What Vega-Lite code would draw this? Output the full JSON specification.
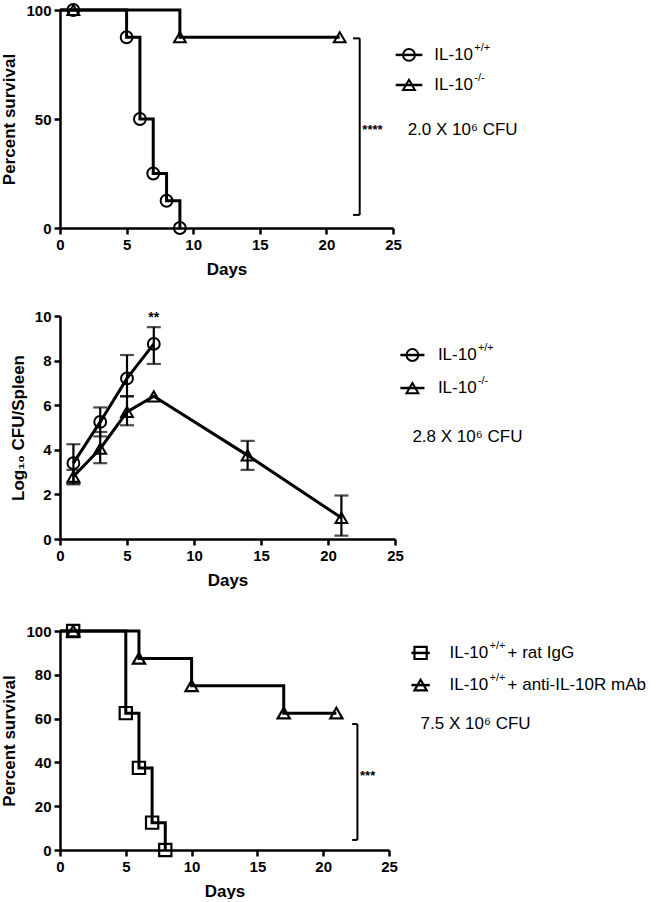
{
  "$schema": "https://vega.github.io/schema/vega-lite/v6.json",
  "background": "white",
  "padding": {"left": 0, "top": 0, "right": 0, "bottom": 0},
  "spacing": 32,
  "resolve": {"scale": {"shape": "independent"}},
  "config": {
    "font": "Liberation Sans",
    "view": {"stroke": null},
    "axis": {"domainColor": "black", "domainWidth": 2.5, "tickColor": "black", "tickWidth": 2.5, "tickSize": 6, "labelFont": "Liberation Sans", "labelFontWeight": "bold", "labelFontSize": 15, "labelColor": "black", "labelPadding": 3, "titleFont": "Liberation Sans", "titleFontWeight": "bold", "titleFontSize": 17, "titleColor": "black", "grid": false},
    "axisX": {"titlePadding": 9, "labelFlush": false},
    "axisY": {"titlePadding": 7},
    "text": {"font": "Liberation Sans", "color": "black"}
  },
  "datasets": {
    "surv1": [
      {"group": "IL-10+/+", "day": 0, "pct": 100},
      {"group": "IL-10+/+", "day": 1, "pct": 100},
      {"group": "IL-10+/+", "day": 5, "pct": 87.5},
      {"group": "IL-10+/+", "day": 6, "pct": 50},
      {"group": "IL-10+/+", "day": 7, "pct": 25},
      {"group": "IL-10+/+", "day": 8, "pct": 12.5},
      {"group": "IL-10+/+", "day": 9, "pct": 0},
      {"group": "IL-10-/-", "day": 0, "pct": 100},
      {"group": "IL-10-/-", "day": 1, "pct": 100},
      {"group": "IL-10-/-", "day": 9, "pct": 87.5},
      {"group": "IL-10-/-", "day": 21, "pct": 87.5}
    ],
    "leg1": [
      {"group": "IL-10+/+", "base": "IL-10", "sup": "+/+", "ly": 79.4},
      {"group": "IL-10-/-", "base": "IL-10", "sup": "-/-", "ly": 65.6}
    ],
    "cfu": [
      {"group": "IL-10+/+", "day": 1, "mean": 3.4, "lo": 2.5, "hi": 4.25},
      {"group": "IL-10+/+", "day": 3, "mean": 5.25, "lo": 4.6, "hi": 5.9},
      {"group": "IL-10+/+", "day": 5, "mean": 7.2, "lo": 6.4, "hi": 8.25},
      {"group": "IL-10+/+", "day": 7, "mean": 8.75, "lo": 7.85, "hi": 9.5},
      {"group": "IL-10-/-", "day": 1, "mean": 2.8, "lo": 2.45, "hi": 3.1},
      {"group": "IL-10-/-", "day": 3, "mean": 4.05, "lo": 3.4, "hi": 4.8},
      {"group": "IL-10-/-", "day": 5, "mean": 5.7, "lo": 5.1, "hi": 6.4},
      {"group": "IL-10-/-", "day": 7, "mean": 6.4, "lo": null, "hi": null},
      {"group": "IL-10-/-", "day": 14, "mean": 3.75, "lo": 3.1, "hi": 4.4},
      {"group": "IL-10-/-", "day": 21, "mean": 0.95, "lo": 0.15, "hi": 1.95}
    ],
    "leg2": [
      {"group": "IL-10+/+", "base": "IL-10", "sup": "+/+", "ly": 8.25},
      {"group": "IL-10-/-", "base": "IL-10", "sup": "-/-", "ly": 6.77}
    ],
    "surv3": [
      {"group": "IgG", "day": 0, "pct": 100},
      {"group": "IgG", "day": 1, "pct": 100},
      {"group": "IgG", "day": 5, "pct": 62.5},
      {"group": "IgG", "day": 6, "pct": 37.5},
      {"group": "IgG", "day": 7, "pct": 12.5},
      {"group": "IgG", "day": 8, "pct": 0},
      {"group": "anti", "day": 0, "pct": 100},
      {"group": "anti", "day": 1, "pct": 100},
      {"group": "anti", "day": 6, "pct": 87.5},
      {"group": "anti", "day": 10, "pct": 75},
      {"group": "anti", "day": 17, "pct": 62.5},
      {"group": "anti", "day": 21, "pct": 62.5}
    ],
    "leg3": [
      {"group": "IgG", "base": "IL-10", "sup": "+/+", "rest": "+ rat IgG", "ly": 90},
      {"group": "anti", "base": "IL-10", "sup": "+/+", "rest": "+ anti-IL-10R mAb", "ly": 75.3}
    ]
  },
  "vconcat": [
    {
      "width": 333,
      "height": 218,
      "layer": [
        {
          "data": {"name": "surv1"},
          "mark": {"type": "line", "interpolate": "step-after", "color": "black", "strokeWidth": 3},
          "encoding": {
            "x": {"field": "day", "type": "quantitative", "scale": {"domain": [0, 25], "nice": false}, "axis": {"values": [0, 5, 10, 15, 20, 25]}, "title": "Days"},
            "y": {"field": "pct", "type": "quantitative", "scale": {"domain": [0, 100], "nice": false}, "axis": {"values": [0, 50, 100]}, "title": "Percent survival"},
            "detail": {"field": "group"}
          }
        },
        {
          "data": {"name": "surv1"},
          "transform": [{"filter": "datum.day > 0"}],
          "mark": {"type": "point", "filled": false, "stroke": "black", "strokeWidth": 2, "size": 140, "opacity": 1},
          "encoding": {
            "x": {"field": "day", "type": "quantitative", "scale": {"domain": [0, 25], "nice": false}, "title": "Days"},
            "y": {"field": "pct", "type": "quantitative", "scale": {"domain": [0, 100], "nice": false}, "title": "Percent survival"},
            "shape": {"field": "group", "type": "nominal", "scale": {"domain": ["IL-10+/+", "IL-10-/-"], "range": ["circle", "triangle-up"]}, "legend": null}
          }
        },
        {
          "data": {"values": [
            {"x": 22.5, "x2": 22.5, "y": 6, "y2": 87},
            {"x": 22.0, "x2": 22.5, "y": 87, "y2": 87},
            {"x": 22.0, "x2": 22.5, "y": 6, "y2": 6}
          ]},
          "mark": {"type": "rule", "color": "black", "strokeWidth": 2},
          "encoding": {
            "x": {"field": "x", "type": "quantitative", "scale": {"domain": [0, 25], "nice": false}, "title": "Days"},
            "x2": {"field": "x2"},
            "y": {"field": "y", "type": "quantitative", "scale": {"domain": [0, 100], "nice": false}, "title": "Percent survival"},
            "y2": {"field": "y2"}
          }
        },
        {
          "data": {"values": [{"x": 22.7, "y": 45, "label": "****"}]},
          "mark": {"type": "text", "align": "left", "baseline": "middle", "fontSize": 13, "fontWeight": "bold"},
          "encoding": {
            "x": {"field": "x", "type": "quantitative", "scale": {"domain": [0, 25], "nice": false}, "title": "Days"},
            "y": {"field": "y", "type": "quantitative", "scale": {"domain": [0, 100], "nice": false}, "title": "Percent survival"},
            "text": {"field": "label"}
          }
        },
        {
          "data": {"values": [{"x": 26.1, "y": 45, "label": "2.0 X 10⁶ CFU"}]},
          "mark": {"type": "text", "align": "left", "baseline": "middle", "fontSize": 17},
          "encoding": {
            "x": {"field": "x", "type": "quantitative", "scale": {"domain": [0, 25], "nice": false}, "title": "Days"},
            "y": {"field": "y", "type": "quantitative", "scale": {"domain": [0, 100], "nice": false}, "title": "Percent survival"},
            "text": {"field": "label"}
          }
        },
        {
          "data": {"name": "leg1"},
          "mark": {"type": "rule", "color": "black", "strokeWidth": 2.5},
          "encoding": {
            "x": {"datum": 25.2, "type": "quantitative", "scale": {"domain": [0, 25], "nice": false}, "title": "Days"},
            "x2": {"datum": 27.2},
            "y": {"field": "ly", "type": "quantitative", "scale": {"domain": [0, 100], "nice": false}, "title": "Percent survival"}
          }
        },
        {
          "data": {"name": "leg1"},
          "mark": {"type": "point", "filled": false, "stroke": "black", "strokeWidth": 2, "size": 140, "opacity": 1},
          "encoding": {
            "x": {"datum": 26.2, "type": "quantitative", "scale": {"domain": [0, 25], "nice": false}, "title": "Days"},
            "y": {"field": "ly", "type": "quantitative", "scale": {"domain": [0, 100], "nice": false}, "title": "Percent survival"},
            "shape": {"field": "group", "type": "nominal", "scale": {"domain": ["IL-10+/+", "IL-10-/-"], "range": ["circle", "triangle-up"]}, "legend": null}
          }
        },
        {
          "data": {"name": "leg1"},
          "mark": {"type": "text", "align": "left", "baseline": "middle", "fontSize": 17},
          "encoding": {
            "x": {"datum": 28.1, "type": "quantitative", "scale": {"domain": [0, 25], "nice": false}, "title": "Days"},
            "y": {"field": "ly", "type": "quantitative", "scale": {"domain": [0, 100], "nice": false}, "title": "Percent survival"},
            "text": {"field": "base"}
          }
        },
        {
          "data": {"name": "leg1"},
          "mark": {"type": "text", "align": "left", "baseline": "middle", "fontSize": 11, "dx": 40, "dy": -7},
          "encoding": {
            "x": {"datum": 28.1, "type": "quantitative", "scale": {"domain": [0, 25], "nice": false}, "title": "Days"},
            "y": {"field": "ly", "type": "quantitative", "scale": {"domain": [0, 100], "nice": false}, "title": "Percent survival"},
            "text": {"field": "sup"}
          }
        }
      ]
    },
    {
      "width": 335,
      "height": 223,
      "layer": [
        {
          "data": {"name": "cfu"},
          "transform": [{"filter": "isValid(datum.lo)"}],
          "mark": {"type": "errorbar", "ticks": true, "size": 14, "thickness": 2.2, "color": "black"},
          "encoding": {
            "x": {"field": "day", "type": "quantitative", "scale": {"domain": [0, 25], "nice": false}, "axis": {"values": [0, 5, 10, 15, 20, 25]}, "title": "Days"},
            "y": {"field": "lo", "type": "quantitative", "scale": {"domain": [0, 10], "nice": false}, "axis": {"values": [0, 2, 4, 6, 8, 10]}, "title": "Log₁₀ CFU/Spleen"},
            "y2": {"field": "hi"}
          }
        },
        {
          "data": {"name": "cfu"},
          "mark": {"type": "line", "color": "black", "strokeWidth": 3},
          "encoding": {
            "x": {"field": "day", "type": "quantitative", "scale": {"domain": [0, 25], "nice": false}, "title": "Days"},
            "y": {"field": "mean", "type": "quantitative", "scale": {"domain": [0, 10], "nice": false}, "title": "Log₁₀ CFU/Spleen"},
            "detail": {"field": "group"}
          }
        },
        {
          "data": {"name": "cfu"},
          "mark": {"type": "point", "filled": false, "stroke": "black", "strokeWidth": 2, "size": 140, "opacity": 1},
          "encoding": {
            "x": {"field": "day", "type": "quantitative", "scale": {"domain": [0, 25], "nice": false}, "title": "Days"},
            "y": {"field": "mean", "type": "quantitative", "scale": {"domain": [0, 10], "nice": false}, "title": "Log₁₀ CFU/Spleen"},
            "shape": {"field": "group", "type": "nominal", "scale": {"domain": ["IL-10+/+", "IL-10-/-"], "range": ["circle", "triangle-up"]}, "legend": null}
          }
        },
        {
          "data": {"values": [{"x": 7, "y": 9.9, "label": "**"}]},
          "mark": {"type": "text", "align": "center", "baseline": "middle", "fontSize": 14, "fontWeight": "bold"},
          "encoding": {
            "x": {"field": "x", "type": "quantitative", "scale": {"domain": [0, 25], "nice": false}, "title": "Days"},
            "y": {"field": "y", "type": "quantitative", "scale": {"domain": [0, 10], "nice": false}, "title": "Log₁₀ CFU/Spleen"},
            "text": {"field": "label"}
          }
        },
        {
          "data": {"values": [{"x": 26.3, "y": 4.57, "label": "2.8 X 10⁶ CFU"}]},
          "mark": {"type": "text", "align": "left", "baseline": "middle", "fontSize": 17},
          "encoding": {
            "x": {"field": "x", "type": "quantitative", "scale": {"domain": [0, 25], "nice": false}, "title": "Days"},
            "y": {"field": "y", "type": "quantitative", "scale": {"domain": [0, 10], "nice": false}, "title": "Log₁₀ CFU/Spleen"},
            "text": {"field": "label"}
          }
        },
        {
          "data": {"name": "leg2"},
          "mark": {"type": "rule", "color": "black", "strokeWidth": 2.5},
          "encoding": {
            "x": {"datum": 25.4, "type": "quantitative", "scale": {"domain": [0, 25], "nice": false}, "title": "Days"},
            "x2": {"datum": 27.2},
            "y": {"field": "ly", "type": "quantitative", "scale": {"domain": [0, 10], "nice": false}, "title": "Log₁₀ CFU/Spleen"}
          }
        },
        {
          "data": {"name": "leg2"},
          "mark": {"type": "point", "filled": false, "stroke": "black", "strokeWidth": 2, "size": 140, "opacity": 1},
          "encoding": {
            "x": {"datum": 26.3, "type": "quantitative", "scale": {"domain": [0, 25], "nice": false}, "title": "Days"},
            "y": {"field": "ly", "type": "quantitative", "scale": {"domain": [0, 10], "nice": false}, "title": "Log₁₀ CFU/Spleen"},
            "shape": {"field": "group", "type": "nominal", "scale": {"domain": ["IL-10+/+", "IL-10-/-"], "range": ["circle", "triangle-up"]}, "legend": null}
          }
        },
        {
          "data": {"name": "leg2"},
          "mark": {"type": "text", "align": "left", "baseline": "middle", "fontSize": 17},
          "encoding": {
            "x": {"datum": 28.2, "type": "quantitative", "scale": {"domain": [0, 25], "nice": false}, "title": "Days"},
            "y": {"field": "ly", "type": "quantitative", "scale": {"domain": [0, 10], "nice": false}, "title": "Log₁₀ CFU/Spleen"},
            "text": {"field": "base"}
          }
        },
        {
          "data": {"name": "leg2"},
          "mark": {"type": "text", "align": "left", "baseline": "middle", "fontSize": 11, "dx": 40, "dy": -7},
          "encoding": {
            "x": {"datum": 28.2, "type": "quantitative", "scale": {"domain": [0, 25], "nice": false}, "title": "Days"},
            "y": {"field": "ly", "type": "quantitative", "scale": {"domain": [0, 10], "nice": false}, "title": "Log₁₀ CFU/Spleen"},
            "text": {"field": "sup"}
          }
        }
      ]
    },
    {
      "width": 329,
      "height": 219,
      "layer": [
        {
          "data": {"name": "surv3"},
          "mark": {"type": "line", "interpolate": "step-after", "color": "black", "strokeWidth": 3},
          "encoding": {
            "x": {"field": "day", "type": "quantitative", "scale": {"domain": [0, 25], "nice": false}, "axis": {"values": [0, 5, 10, 15, 20, 25]}, "title": "Days"},
            "y": {"field": "pct", "type": "quantitative", "scale": {"domain": [0, 100], "nice": false}, "axis": {"values": [0, 20, 40, 60, 80, 100]}, "title": "Percent survival"},
            "detail": {"field": "group"}
          }
        },
        {
          "data": {"name": "surv3"},
          "transform": [{"filter": "datum.day > 0"}],
          "mark": {"type": "point", "filled": false, "stroke": "black", "strokeWidth": 2.2, "size": 150, "opacity": 1},
          "encoding": {
            "x": {"field": "day", "type": "quantitative", "scale": {"domain": [0, 25], "nice": false}, "title": "Days"},
            "y": {"field": "pct", "type": "quantitative", "scale": {"domain": [0, 100], "nice": false}, "title": "Percent survival"},
            "shape": {"field": "group", "type": "nominal", "scale": {"domain": ["IgG", "anti"], "range": ["square", "triangle-up"]}, "legend": null}
          }
        },
        {
          "data": {"values": [
            {"x": 22.6, "x2": 22.6, "y": 4.6, "y2": 57.5},
            {"x": 22.2, "x2": 22.6, "y": 57.5, "y2": 57.5},
            {"x": 22.2, "x2": 22.6, "y": 4.6, "y2": 4.6}
          ]},
          "mark": {"type": "rule", "color": "black", "strokeWidth": 2},
          "encoding": {
            "x": {"field": "x", "type": "quantitative", "scale": {"domain": [0, 25], "nice": false}, "title": "Days"},
            "x2": {"field": "x2"},
            "y": {"field": "y", "type": "quantitative", "scale": {"domain": [0, 100], "nice": false}, "title": "Percent survival"},
            "y2": {"field": "y2"}
          }
        },
        {
          "data": {"values": [{"x": 22.8, "y": 34, "label": "***"}]},
          "mark": {"type": "text", "align": "left", "baseline": "middle", "fontSize": 13, "fontWeight": "bold"},
          "encoding": {
            "x": {"field": "x", "type": "quantitative", "scale": {"domain": [0, 25], "nice": false}, "title": "Days"},
            "y": {"field": "y", "type": "quantitative", "scale": {"domain": [0, 100], "nice": false}, "title": "Percent survival"},
            "text": {"field": "label"}
          }
        },
        {
          "data": {"values": [{"x": 27.4, "y": 57.5, "label": "7.5 X 10⁶ CFU"}]},
          "mark": {"type": "text", "align": "left", "baseline": "middle", "fontSize": 17},
          "encoding": {
            "x": {"field": "x", "type": "quantitative", "scale": {"domain": [0, 25], "nice": false}, "title": "Days"},
            "y": {"field": "y", "type": "quantitative", "scale": {"domain": [0, 100], "nice": false}, "title": "Percent survival"},
            "text": {"field": "label"}
          }
        },
        {
          "data": {"name": "leg3"},
          "mark": {"type": "rule", "color": "black", "strokeWidth": 2.5},
          "encoding": {
            "x": {"datum": 26.7, "type": "quantitative", "scale": {"domain": [0, 25], "nice": false}, "title": "Days"},
            "x2": {"datum": 28.1},
            "y": {"field": "ly", "type": "quantitative", "scale": {"domain": [0, 100], "nice": false}, "title": "Percent survival"}
          }
        },
        {
          "data": {"name": "leg3"},
          "mark": {"type": "point", "filled": false, "stroke": "black", "strokeWidth": 2.2, "size": 150, "opacity": 1},
          "encoding": {
            "x": {"datum": 27.4, "type": "quantitative", "scale": {"domain": [0, 25], "nice": false}, "title": "Days"},
            "y": {"field": "ly", "type": "quantitative", "scale": {"domain": [0, 100], "nice": false}, "title": "Percent survival"},
            "shape": {"field": "group", "type": "nominal", "scale": {"domain": ["IgG", "anti"], "range": ["square", "triangle-up"]}, "legend": null}
          }
        },
        {
          "data": {"name": "leg3"},
          "mark": {"type": "text", "align": "left", "baseline": "middle", "fontSize": 17},
          "encoding": {
            "x": {"datum": 29.6, "type": "quantitative", "scale": {"domain": [0, 25], "nice": false}, "title": "Days"},
            "y": {"field": "ly", "type": "quantitative", "scale": {"domain": [0, 100], "nice": false}, "title": "Percent survival"},
            "text": {"field": "base"}
          }
        },
        {
          "data": {"name": "leg3"},
          "mark": {"type": "text", "align": "left", "baseline": "middle", "fontSize": 11, "dx": 40, "dy": -7},
          "encoding": {
            "x": {"datum": 29.6, "type": "quantitative", "scale": {"domain": [0, 25], "nice": false}, "title": "Days"},
            "y": {"field": "ly", "type": "quantitative", "scale": {"domain": [0, 100], "nice": false}, "title": "Percent survival"},
            "text": {"field": "sup"}
          }
        },
        {
          "data": {"name": "leg3"},
          "mark": {"type": "text", "align": "left", "baseline": "middle", "fontSize": 17, "dx": 58},
          "encoding": {
            "x": {"datum": 29.6, "type": "quantitative", "scale": {"domain": [0, 25], "nice": false}, "title": "Days"},
            "y": {"field": "ly", "type": "quantitative", "scale": {"domain": [0, 100], "nice": false}, "title": "Percent survival"},
            "text": {"field": "rest"}
          }
        }
      ]
    }
  ]
}
